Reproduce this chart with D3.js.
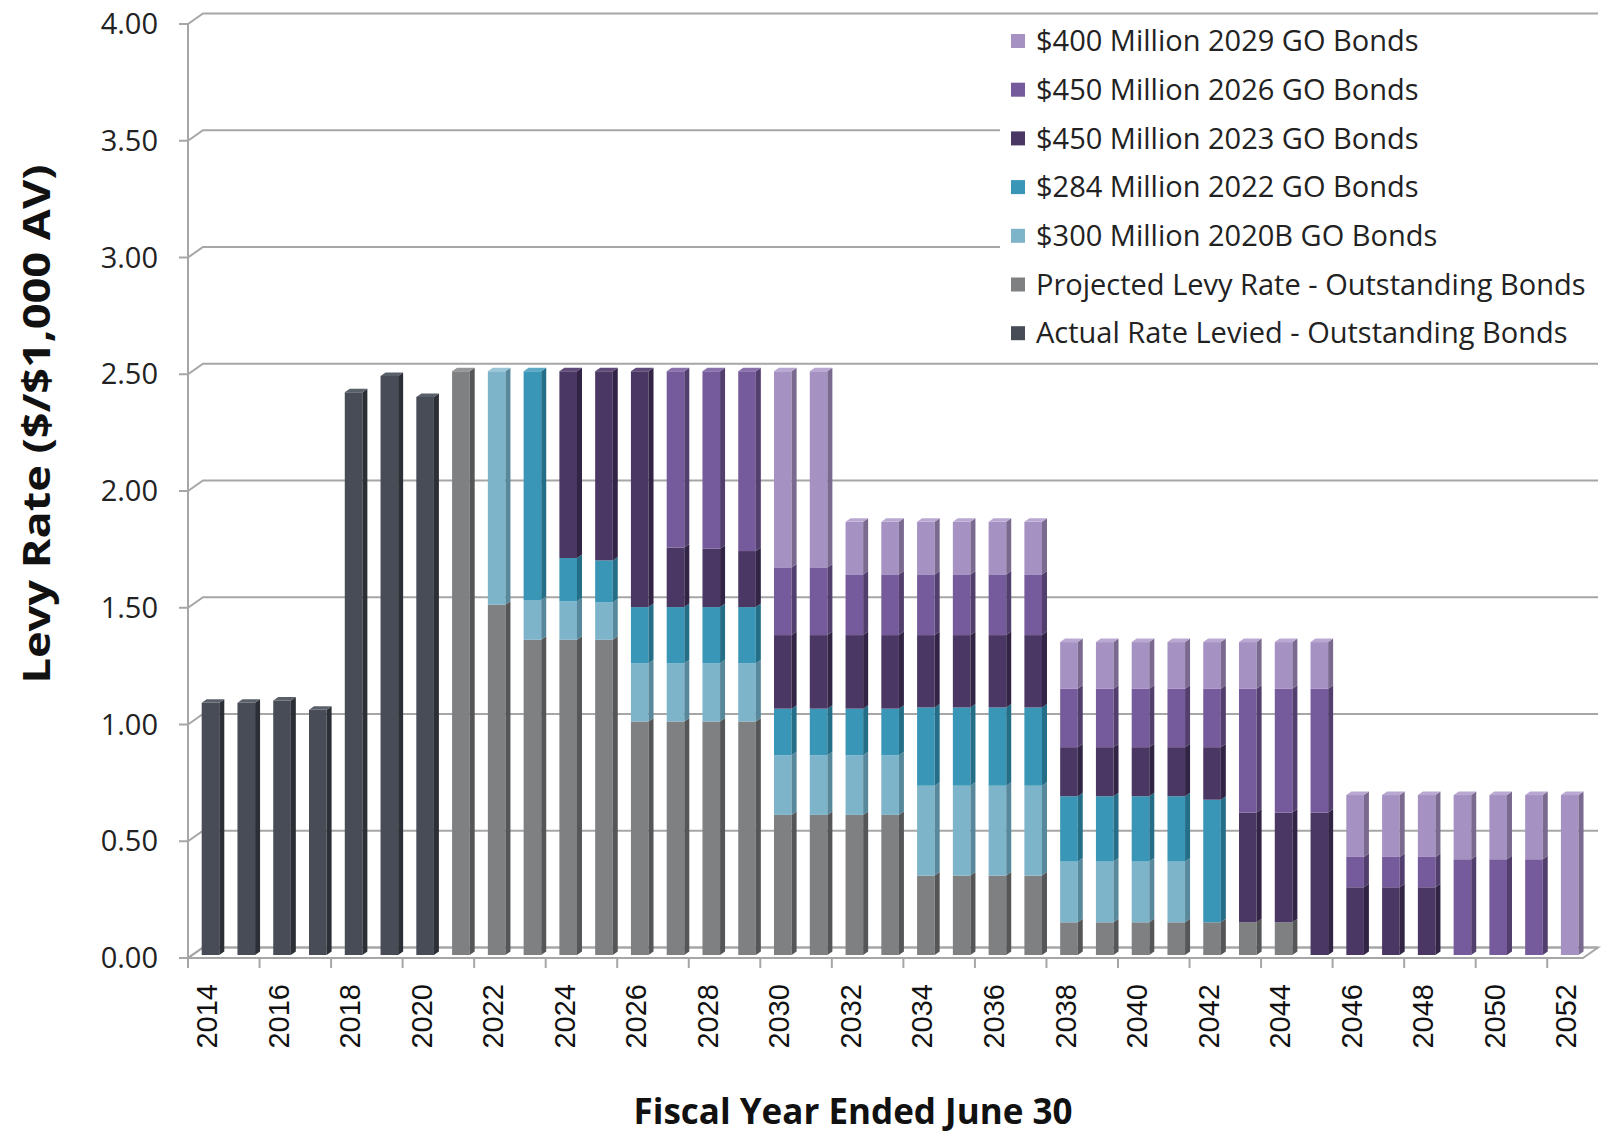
<!DOCTYPE html>
<html>
<head>
<meta charset="utf-8">
<script src="https://cdn.jsdelivr.net/npm/d3@7"></script>
<style>
  body { margin: 0; background: #fff; }
  svg { display: block; }
</style>
</head>
<body>
<div id="chart"></div>
<script>
const width = 1602;
const height = 1137;

// fiscal years on the x axis
const years = [2014, 2015, 2016, 2017, 2018, 2019, 2020, 2021, 2022, 2023,
  2024, 2025, 2026, 2027, 2028, 2029, 2030, 2031, 2032, 2033,
  2034, 2035, 2036, 2037, 2038, 2039, 2040, 2041, 2042, 2043,
  2044, 2045, 2046, 2047, 2048, 2049, 2050, 2051, 2052];

// levy rate ($/$1,000 AV) for each series, stacked bottom -> top
const actualLevied = [1.08, 1.08, 1.09, 1.05, 2.41, 2.48, 2.39, 0, 0, 0,
  0, 0, 0, 0, 0, 0, 0, 0, 0, 0,
  0, 0, 0, 0, 0, 0, 0, 0, 0, 0,
  0, 0, 0, 0, 0, 0, 0, 0, 0];
const projectedLevy = [0, 0, 0, 0, 0, 0, 0, 2.50, 1.50, 1.35,
  1.35, 1.35, 1.00, 1.00, 1.00, 1.00, 0.60, 0.60, 0.60, 0.60,
  0.34, 0.34, 0.34, 0.34, 0.14, 0.14, 0.14, 0.14, 0.14, 0.14,
  0.14, 0, 0, 0, 0, 0, 0, 0, 0];
const bonds2020B = [0, 0, 0, 0, 0, 0, 0, 0, 1.00, 0.17,
  0.165, 0.16, 0.25, 0.25, 0.25, 0.25, 0.255, 0.255, 0.255, 0.255,
  0.385, 0.385, 0.385, 0.385, 0.26, 0.26, 0.26, 0.26, 0, 0,
  0, 0, 0, 0, 0, 0, 0, 0, 0];
const bonds2022 = [0, 0, 0, 0, 0, 0, 0, 0, 0, 0.98,
  0.185, 0.18, 0.24, 0.24, 0.24, 0.24, 0.20, 0.20, 0.20, 0.20,
  0.335, 0.335, 0.335, 0.335, 0.28, 0.28, 0.28, 0.28, 0.525, 0,
  0, 0, 0, 0, 0, 0, 0, 0, 0];
const bonds2023 = [0, 0, 0, 0, 0, 0, 0, 0, 0, 0,
  0.80, 0.81, 1.01, 0.255, 0.25, 0.24, 0.315, 0.315, 0.315, 0.315,
  0.31, 0.31, 0.31, 0.31, 0.21, 0.21, 0.21, 0.21, 0.225, 0.47,
  0.47, 0.61, 0.29, 0.29, 0.29, 0, 0, 0, 0];
const bonds2026 = [0, 0, 0, 0, 0, 0, 0, 0, 0, 0,
  0, 0, 0, 0.755, 0.76, 0.77, 0.29, 0.29, 0.26, 0.26,
  0.26, 0.26, 0.26, 0.26, 0.25, 0.25, 0.25, 0.25, 0.25, 0.53,
  0.53, 0.53, 0.13, 0.13, 0.13, 0.41, 0.41, 0.41, 0];
const bonds2029 = [0, 0, 0, 0, 0, 0, 0, 0, 0, 0,
  0, 0, 0, 0, 0, 0, 0.84, 0.84, 0.225, 0.225,
  0.225, 0.225, 0.225, 0.225, 0.20, 0.20, 0.20, 0.20, 0.20, 0.20,
  0.20, 0.20, 0.265, 0.265, 0.265, 0.275, 0.275, 0.275, 0.685];

const yTicks = [0, 0.5, 1, 1.5, 2, 2.5, 3, 3.5, 4];

const seriesList = [
  { name: "Actual Rate Levied - Outstanding Bonds", values: actualLevied, front: "#474c56", side: "#2c3036", top: "#5a606a" },
  { name: "Projected Levy Rate - Outstanding Bonds", values: projectedLevy, front: "#7f8082", side: "#555657", top: "#96979a" },
  { name: "$300 Million 2020B GO Bonds", values: bonds2020B, front: "#7db4ca", side: "#57889b", top: "#9cc6d7" },
  { name: "$284 Million 2022 GO Bonds", values: bonds2022, front: "#3a96b6", side: "#256e88", top: "#5eaac5" },
  { name: "$450 Million 2023 GO Bonds", values: bonds2023, front: "#4b3763", side: "#322445", top: "#604b7a" },
  { name: "$450 Million 2026 GO Bonds", values: bonds2026, front: "#755b9b", side: "#523f6e", top: "#8a72ad" },
  { name: "$400 Million 2029 GO Bonds", values: bonds2029, front: "#a691c3", side: "#7a6a90", top: "#b9a8d1" }
];

// 3d look: back wall offset and bar side depth
const depthX = 15, depthY = -10.5;
const sideX = 5, sideY = -3.5;
const barShift = -3;

var svg = d3.select('#chart').append('svg')
  .attr('width', width)
  .attr('height', height)
  .style('font-family', "'Open Sans', sans-serif");

var xScale = d3.scaleBand().domain(years).range([188, 1583]).padding(0);
var yScale = d3.scaleLinear().domain([0, 4]).range([958, 24]);
var bw = xScale.bandwidth();
var barW = 17.6;
var barOff = 13.7;

// back wall grid lines (with the diagonal going back from the axis)
var grid = svg.append('g');
yTicks.forEach(v => {
  let y = yScale(v);
  grid.append('path')
    .attr('d', `M${xScale.range()[0]},${y} L${xScale.range()[0] + depthX},${y + depthY} L${xScale.range()[1] + depthX},${y + depthY}`)
    .style('fill', 'none')
    .style('stroke', '#a6a6a6')
    .style('stroke-width', 2);
});

// floor
var y0 = yScale(0);
svg.append('path')
  .attr('d', `M188,${y0} L1583,${y0} L${1583 + depthX},${y0 + depthY} L${188 + depthX},${y0 + depthY} Z`)
  .style('fill', 'none')
  .style('stroke', '#a6a6a6')
  .style('stroke-width', 2);

// legend box sits on top of the upper grid lines
svg.append('rect')
  .attr('x', 1000).attr('y', 18)
  .attr('width', 602).attr('height', 338)
  .style('fill', '#fff');

// y axis
svg.append('line')
  .attr('x1', 188).attr('x2', 188)
  .attr('y1', yScale(0)).attr('y2', yScale(4))
  .style('stroke', '#a6a6a6').style('stroke-width', 2);
var yAxis = svg.append('g');
yAxis.selectAll('line').data(yTicks).enter()
  .append('line')
  .attr('x1', 179).attr('x2', 188)
  .attr('y1', d => yScale(d)).attr('y2', d => yScale(d))
  .style('stroke', '#a6a6a6').style('stroke-width', 2);
yAxis.selectAll('text').data(yTicks).enter()
  .append('text')
  .attr('x', 158)
  .attr('y', d => yScale(d))
  .attr('dy', '0.35em')
  .attr('text-anchor', 'end')
  .style('font-size', '29px')
  .style('fill', '#222')
  .text(d => d.toFixed(2));

// x axis ticks every two years
var xTickYears = years.filter((d, i) => i % 2 == 0);
var xAxis = svg.append('g');
xAxis.selectAll('line').data(xTickYears).enter()
  .append('line')
  .attr('x1', d => xScale(d)).attr('x2', d => xScale(d))
  .attr('y1', y0).attr('y2', y0 + 10)
  .style('stroke', '#a6a6a6').style('stroke-width', 2);
xAxis.selectAll('text').data(xTickYears).enter()
  .append('text')
  .attr('transform', d => `translate(${xScale(d) + bw / 2 + 1},984) rotate(-90)`)
  .attr('dy', '0.35em')
  .attr('text-anchor', 'end')
  .style('font-family', "'Liberation Sans', Arial, sans-serif")
  .style('font-size', '29px')
  .style('fill', '#111')
  .text(d => d);

// stacked 3d bars
var stacked = years.map((yr, i) => {
  let base = 0;
  let segs = [];
  seriesList.forEach(s => {
    let v = s.values[i];
    if (v > 0) {
      segs.push({ s: s, y0: base, y1: base + v });
      base += v;
    }
  });
  return { year: yr, segs: segs, total: base };
});

var bars = svg.append('g');
stacked.forEach(col => {
  let x = xScale(col.year) + barOff;
  let g = bars.append('g');
  g.selectAll('rect.front').data(col.segs).enter()
    .append('rect')
    .attr('class', 'front')
    .attr('x', x)
    .attr('y', d => yScale(d.y1) + barShift)
    .attr('width', barW)
    .attr('height', d => yScale(d.y0) - yScale(d.y1))
    .style('fill', d => d.s.front);
  g.selectAll('path.side').data(col.segs).enter()
    .append('path')
    .attr('class', 'side')
    .attr('d', d => {
      let yt = yScale(d.y1) + barShift, yb = yScale(d.y0) + barShift;
      return `M${x + barW},${yt} L${x + barW + sideX},${yt + sideY} L${x + barW + sideX},${yb + sideY} L${x + barW},${yb} Z`;
    })
    .style('fill', d => d.s.side);
  if (col.segs.length) {
    let topSeg = col.segs[col.segs.length - 1];
    let yt = yScale(topSeg.y1) + barShift;
    g.append('path')
      .attr('d', `M${x},${yt} L${x + sideX},${yt + sideY} L${x + barW + sideX},${yt + sideY} L${x + barW},${yt} Z`)
      .style('fill', topSeg.s.top);
  }
});

// legend
var legendItems = seriesList.slice().reverse();
var legend = svg.append('g');
legend.selectAll('rect').data(legendItems).enter()
  .append('rect')
  .attr('x', 1011)
  .attr('y', (d, i) => 41 + i * 48.7 - 7)
  .attr('width', 14).attr('height', 14)
  .style('fill', d => d.front);
legend.selectAll('text').data(legendItems).enter()
  .append('text')
  .attr('x', 1036)
  .attr('y', (d, i) => 41 + i * 48.7)
  .attr('dy', '0.35em')
  .style('font-size', '29px')
  .style('fill', '#222')
  .text(d => d.name);

// axis titles
svg.append('text')
  .attr('transform', 'translate(37,424) rotate(-90)')
  .attr('text-anchor', 'middle')
  .attr('dy', '0.35em')
  .attr('textLength', 519)
  .attr('lengthAdjust', 'spacingAndGlyphs')
  .style('font-size', '38px')
  .style('font-weight', 700)
  .style('fill', '#111')
  .text('Levy Rate ($/$1,000 AV)');

svg.append('text')
  .attr('x', 853)
  .attr('y', 1124)
  .attr('text-anchor', 'middle')
  .style('font-size', '35px')
  .style('font-weight', 700)
  .style('fill', '#111')
  .text('Fiscal Year Ended June 30');
</script>
</body>
</html>
